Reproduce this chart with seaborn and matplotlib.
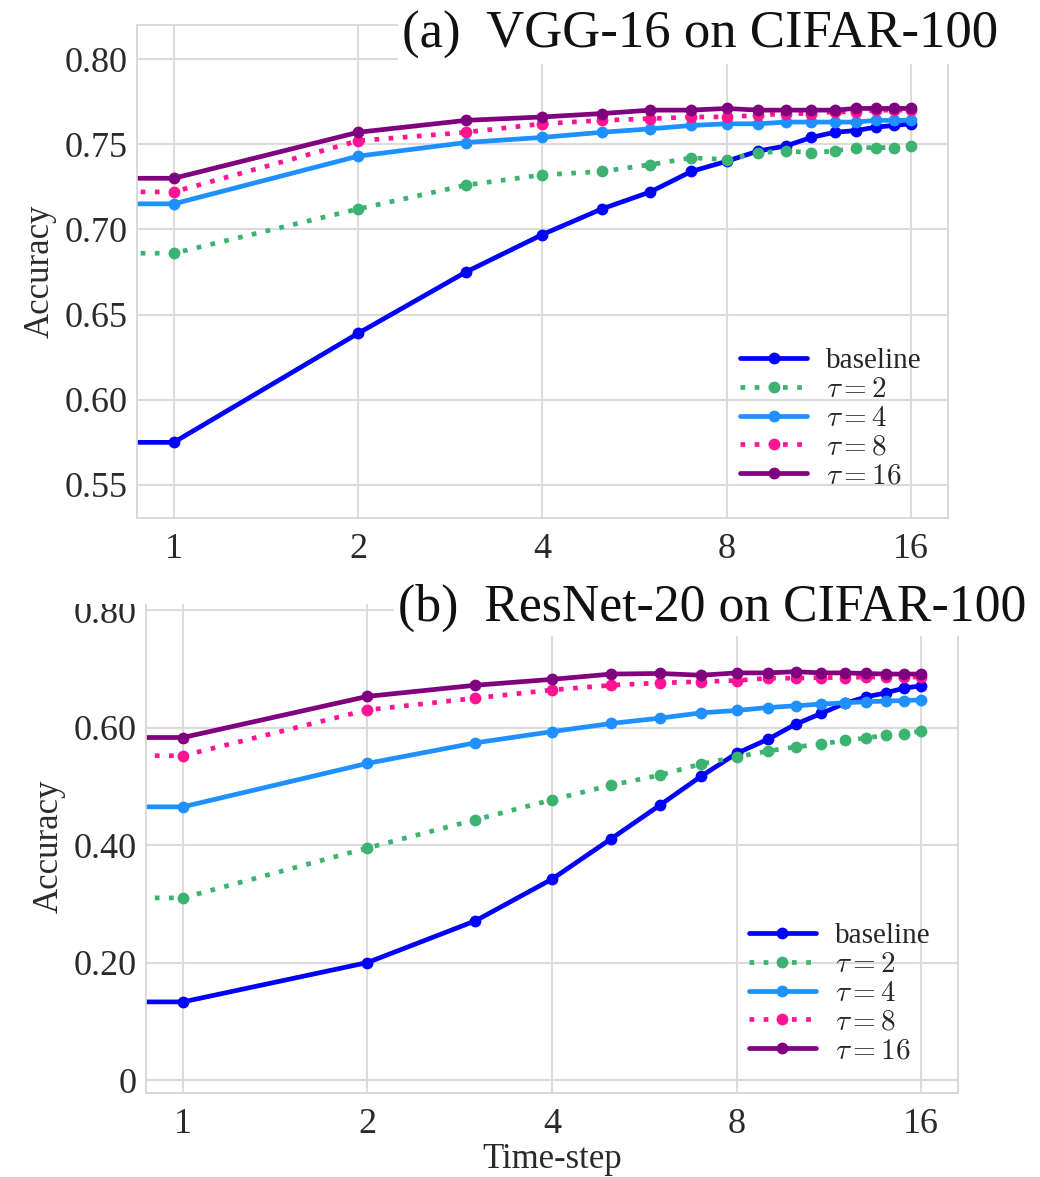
import numpy as np
import seaborn as sns
import matplotlib.pyplot as plt
from matplotlib.patches import Rectangle

# time steps 1..16 (log2 x-axis)
steps = list(range(1, 17))

# (a) VGG-16 on CIFAR-100
vgg_baseline = [0.575, 0.639, 0.675, 0.697, 0.712, 0.722, 0.734, 0.740,
                0.746, 0.749, 0.754, 0.757, 0.758, 0.760, 0.761, 0.762]
vgg_tau2 = [0.686, 0.712, 0.726, 0.732, 0.734, 0.738, 0.742, 0.741,
            0.745, 0.746, 0.745, 0.746, 0.748, 0.748, 0.748, 0.749]
vgg_tau4 = [0.715, 0.743, 0.751, 0.754, 0.757, 0.759, 0.761, 0.762,
            0.762, 0.763, 0.763, 0.763, 0.763, 0.764, 0.764, 0.764]
vgg_tau8 = [0.722, 0.752, 0.757, 0.762, 0.764, 0.765, 0.766, 0.766,
            0.767, 0.768, 0.768, 0.769, 0.769, 0.770, 0.770, 0.770]
vgg_tau16 = [0.730, 0.757, 0.764, 0.766, 0.768, 0.770, 0.770, 0.771,
             0.770, 0.770, 0.770, 0.770, 0.771, 0.771, 0.771, 0.771]

# (b) ResNet-20 on CIFAR-100
res_baseline = [0.133, 0.200, 0.271, 0.342, 0.411, 0.468, 0.517, 0.556,
                0.580, 0.606, 0.624, 0.641, 0.652, 0.659, 0.667, 0.671]
res_tau2 = [0.310, 0.395, 0.443, 0.477, 0.502, 0.519, 0.538, 0.550,
            0.560, 0.567, 0.572, 0.578, 0.582, 0.587, 0.589, 0.594]
res_tau4 = [0.465, 0.539, 0.574, 0.593, 0.607, 0.616, 0.625, 0.629,
            0.634, 0.637, 0.640, 0.642, 0.644, 0.645, 0.646, 0.647]
res_tau8 = [0.552, 0.630, 0.650, 0.664, 0.672, 0.676, 0.678, 0.680,
            0.684, 0.684, 0.685, 0.685, 0.686, 0.686, 0.686, 0.686]
res_tau16 = [0.583, 0.653, 0.672, 0.682, 0.691, 0.692, 0.689, 0.693,
             0.693, 0.695, 0.693, 0.693, 0.692, 0.691, 0.691, 0.691]

labels = ['baseline', r'$\tau=2$', r'$\tau=4$', r'$\tau=8$', r'$\tau=16$']
colors = ['#0000FF', '#3CB371', '#1E90FF', '#FF1493', '#800080']
styles = ['-', (0, (1, 2)), '-', (0, (1, 2)), '-']

sns.set_theme(style="whitegrid")
plt.rcParams['font.family'] = ['Liberation Serif', 'DejaVu Serif']
plt.rcParams['mathtext.fontset'] = 'cm'

fig = plt.figure(figsize=(10.4, 11.77), dpi=100)
ax1 = fig.add_axes([0.1317, 0.5599, 0.7798, 0.4189])
ax2 = fig.add_axes([0.1404, 0.0714, 0.7808, 0.4188])
ax1.set_zorder(2)
ax2.set_zorder(0)


def draw(ax, series, ylim, yticks, yticklabels):
    ax.set_xscale('log', base=2)
    for vals, lab, col, ls in zip(series, labels, colors, styles):
        # lead-in stub so each line starts flat at the left edge
        xs = [steps[0] / 2] + steps
        ys = [vals[0]] + vals
        sns.lineplot(x=xs, y=ys, ax=ax, color=col, linestyle=ls, linewidth=3.4,
                     marker='o', markersize=8.5, markeredgewidth=0, label=lab,
                     dash_capstyle='butt')
    ax.set_xlim(2 ** -0.2, 2 ** 4.2)
    ax.set_ylim(*ylim)
    ax.set_xticks([1, 2, 4, 8, 16])
    ax.set_xticklabels(['1', '2', '4', '8', '16'])
    ax.xaxis.set_minor_locator(plt.NullLocator())
    ax.set_yticks(yticks)
    ax.set_yticklabels(yticklabels)
    ax.tick_params(labelsize=26, colors='#2a2a2a')
    ax.tick_params(axis='x', pad=5)
    ax.tick_params(axis='y', pad=1)
    ax.set_ylabel('Accuracy', fontsize=25, color='#2a2a2a')
    ax.yaxis.set_label_coords(-0.099, 0.5)
    for s in ax.spines.values():
        s.set_color('#d5d5d5')
    ax.grid(True, color='#dcdcdc', linewidth=1.5)


legend_kw = dict(loc='lower right', frameon=False, fontsize=21,
                 handlelength=2.3, labelspacing=0.08, handletextpad=0.65)

draw(ax1, [vgg_baseline, vgg_tau2, vgg_tau4, vgg_tau8, vgg_tau16],
     (0.5306, 0.82), [0.55, 0.60, 0.65, 0.70, 0.75, 0.80],
     ['0.55', '0.60', '0.65', '0.70', '0.75', '0.80'])
ax1.set_xlabel('')
ax1.legend(bbox_to_anchor=(1.0, 0.005), **legend_kw)

draw(ax2, [res_baseline, res_tau2, res_tau4, res_tau8, res_tau16],
     (-0.022, 0.817), [0, 0.2, 0.4, 0.6, 0.8],
     ['0', '0.20', '0.40', '0.60', '0.80'])
ax2.set_xlabel('Time-step', fontsize=25, color='#2a2a2a')
ax2.xaxis.set_label_coords(0.5, -0.102)
ax2.legend(bbox_to_anchor=(0.9985, 0.005), **legend_kw)

# white band: upper panel image sits over the top of the lower panel
fig.patches.append(Rectangle((0, 1 - 604 / 1177), 1, 604 / 1177,
                             transform=fig.transFigure, facecolor='white',
                             edgecolor='none', zorder=1))

fig.text(0.387, 0.970, '(a)  VGG-16 on CIFAR-100', fontsize=38, ha='left',
         va='center', color='#111111', zorder=5,
         bbox=dict(facecolor='white', edgecolor='none', pad=3))
fig.text(0.383, 0.4834, '(b)  ResNet-20 on CIFAR-100', fontsize=37.3, ha='left',
         va='center', color='#111111', zorder=5,
         bbox=dict(facecolor='white', edgecolor='none', pad=3))

fig.savefig('out.png', dpi=100)
